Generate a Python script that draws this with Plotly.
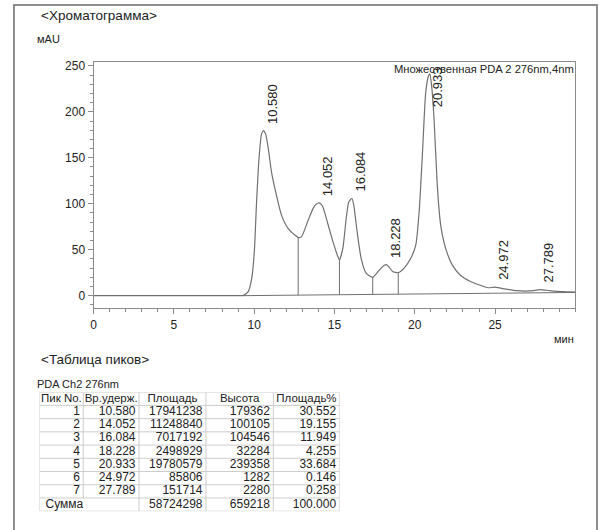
import numpy as np
import plotly.graph_objects as go

# ---- Chromatogram trace (time in min, signal in mAU) ----
trace_time = [0.0, 8.8, 9.33, 9.64, 9.85, 10.01, 10.15, 10.30, 10.46, 10.580, 10.71, 10.88,
              11.08, 11.39, 11.70, 12.12, 12.53, 12.74, 12.94, 13.36, 13.67, 13.85, 14.052,
              14.25, 14.59, 14.90, 15.21, 15.31, 15.52, 15.73, 15.89, 16.084, 16.20, 16.41,
              16.66, 16.97, 17.38, 17.80, 18.10, 18.228, 18.35, 18.62, 18.97, 19.34, 19.75,
              20.06, 20.27, 20.48, 20.68, 20.85, 20.933, 21.05, 21.20, 21.40, 21.61, 21.92,
              22.33, 22.85, 23.47, 24.29, 24.60, 24.972, 25.40, 26.36, 27.20, 27.789, 28.40,
              29.20, 30.0]
trace_mau = [0.0, 0.0, 0.3, 4.7, 19.0, 48.0, 102.0, 149.0, 176.0, 179.6, 176.0, 160.0,
             134.5, 109.0, 87.6, 73.0, 66.0, 63.4, 64.0, 82.0, 95.0, 99.3, 100.9,
             97.5, 78.0, 59.0, 42.5, 39.0, 51.5, 84.0, 102.0, 105.7, 98.5, 69.6,
             40.7, 24.5, 20.0, 28.0, 33.0, 33.8, 32.0, 26.3, 25.0, 30.0, 40.7,
             55.0, 91.0, 156.0, 221.0, 239.0, 241.3, 228.0, 192.0, 120.0, 77.0, 51.5,
             33.5, 22.0, 15.5, 10.0, 8.6, 9.2, 8.0, 5.4, 5.2, 6.6, 5.5,
             4.3, 3.8]

# Integration baseline and peak-separation drop lines
baseline_time = [9.3, 30.0]
baseline_mau = [0.0, 3.5]
valley_times = [12.74, 15.31, 17.38, 18.97]

# ---- Peak table ----
peak_no = [1, 2, 3, 4, 5, 6, 7]
ret_time = [10.580, 14.052, 16.084, 18.228, 20.933, 24.972, 27.789]
peak_area = [17941238, 11248840, 7017192, 2498929, 19780579, 85806, 151714]
peak_height = [179362, 100105, 104546, 32284, 239358, 1282, 2280]
area_pct = [30.552, 19.155, 11.949, 4.255, 33.684, 0.146, 0.258]
total_label = "Сумма"
total_area = 58724298
total_height = 659218
total_pct = 100.000

table_header = ["Пик No.", "Вр.удерж.", "Площадь", "Высота", "Площадь%"]

FONT = "Liberation Sans, Arial, sans-serif"
INK = "#222222"
TRACE = "#707070"
GRID = "#cccccc"
W, H = 599, 530


def px_x(p):
    return p / W


def px_y(p):
    return 1 - p / H


fig = go.Figure()

# chromatogram
fig.add_trace(go.Scatter(x=trace_time, y=trace_mau, mode="lines",
                         line=dict(color=TRACE, width=1.2, shape="spline", smoothing=0.6),
                         hoverinfo="skip", showlegend=False))
# baseline
fig.add_trace(go.Scatter(x=baseline_time, y=baseline_mau, mode="lines",
                         line=dict(color=TRACE, width=1),
                         hoverinfo="skip", showlegend=False))
# drop lines at the valleys
lookup = dict(zip(trace_time, trace_mau))
drop_x, drop_y = [], []
for t in valley_times:
    b = float(np.interp(t, baseline_time, baseline_mau))
    drop_x += [t, t, None]
    drop_y += [b, lookup[t], None]
fig.add_trace(go.Scatter(x=drop_x, y=drop_y, mode="lines",
                         line=dict(color=TRACE, width=1),
                         hoverinfo="skip", showlegend=False))

# retention-time labels above the peaks
annotations = []
for t in ret_time:
    apex = lookup[t]
    if t == 20.933:
        annotations.append(dict(x=t, y=226.5, xref="x", yref="y", text=f"{t:.3f}",
                                textangle=-90, showarrow=False, xshift=8,
                                yanchor="middle", xanchor="center",
                                font=dict(family=FONT, size=13, color=INK)))
    else:
        annotations.append(dict(x=t, y=apex, xref="x", yref="y", text=f"{t:.3f}",
                                textangle=-90, showarrow=False, xshift=9, yshift=5,
                                yanchor="bottom", xanchor="center",
                                font=dict(family=FONT, size=13, color=INK)))

# channel caption inside the plot frame
annotations.append(dict(x=px_x(576), y=px_y(66), xref="paper", yref="paper",
                        text="Множественная PDA 2 276nm,4nm", showarrow=False,
                        xanchor="right", yanchor="middle",
                        font=dict(family=FONT, size=11.2, color=INK)))
# section titles and units
annotations += [
    dict(x=px_x(36), y=px_y(13), xref="paper", yref="paper", text="&lt;Хроматограмма&gt;",
         showarrow=False, xanchor="left", yanchor="middle",
         font=dict(family=FONT, size=13.5, color=INK)),
    dict(x=px_x(32), y=px_y(36), xref="paper", yref="paper", text="мAU",
         showarrow=False, xanchor="left", yanchor="middle",
         font=dict(family=FONT, size=11, color=INK)),
    dict(x=px_x(576), y=px_y(338), xref="paper", yref="paper", text="мин",
         showarrow=False, xanchor="right", yanchor="middle",
         font=dict(family=FONT, size=11, color=INK)),
    dict(x=px_x(36), y=px_y(359), xref="paper", yref="paper", text="&lt;Таблица пиков&gt;",
         showarrow=False, xanchor="left", yanchor="middle",
         font=dict(family=FONT, size=13.5, color=INK)),
    dict(x=px_x(32), y=px_y(383), xref="paper", yref="paper", text="PDA Ch2 276nm",
         showarrow=False, xanchor="left", yanchor="middle",
         font=dict(family=FONT, size=11, color=INK)),
]

# ---- peak table drawn on its own axes (x2: pixels across, y2: row index) ----
col_edges = [0, 44, 100, 167.3, 235, 301.6]
n_rows = len(peak_no) + 2          # header + peaks + total
row_h = 13.3
tbl_left, tbl_top = 36.7, 391.4
pad = 3.5

columns = [
    [str(n) for n in peak_no],
    [f"{t:.3f}" for t in ret_time],
    [str(a) for a in peak_area],
    [str(h) for h in peak_height],
    [f"{p:.3f}" for p in area_pct],
]
totals = ["", "", str(total_area), str(total_height), f"{total_pct:.3f}"]

# grid lines
gx, gy = [], []
for r in range(n_rows + 1):
    gx += [col_edges[0], col_edges[-1], None]
    gy += [r, r, None]
for i, e in enumerate(col_edges):
    bottom = n_rows - 1 if i == 1 else n_rows   # total row spans the first two columns
    gx += [e, e, None]
    gy += [0, bottom, None]
fig.add_trace(go.Scatter(x=gx, y=gy, xaxis="x2", yaxis="y2", mode="lines",
                         line=dict(color=GRID, width=1), hoverinfo="skip", showlegend=False))

# header row
fig.add_trace(go.Scatter(
    x=[(col_edges[i] + col_edges[i + 1]) / 2 for i in range(5)], y=[0.5] * 5,
    text=table_header, mode="text", textposition="middle center",
    xaxis="x2", yaxis="y2", hoverinfo="skip", showlegend=False,
    textfont=dict(family=FONT, size=11.5, color=INK)))

# body rows (right-aligned numbers)
bx, by, bt = [], [], []
for i, col in enumerate(columns):
    for r, v in enumerate(col):
        bx.append(col_edges[i + 1] - pad)
        by.append(r + 1.5)
        bt.append(v)
for i, v in enumerate(totals):
    if v:
        bx.append(col_edges[i + 1] - pad)
        by.append(n_rows - 0.5)
        bt.append(v)
fig.add_trace(go.Scatter(x=bx, y=by, text=bt, mode="text", textposition="middle left",
                         xaxis="x2", yaxis="y2", hoverinfo="skip", showlegend=False,
                         textfont=dict(family=FONT, size=12, color=INK)))
# total label
fig.add_trace(go.Scatter(x=[col_edges[0] + 6], y=[n_rows - 0.5], text=[total_label],
                         mode="text", textposition="middle right",
                         xaxis="x2", yaxis="y2", hoverinfo="skip", showlegend=False,
                         textfont=dict(family=FONT, size=12, color=INK)))

axis_line = "#8a8a8a"
fig.update_layout(
    width=W, height=H,
    margin=dict(l=0, r=0, t=0, b=0),
    paper_bgcolor="white", plot_bgcolor="white",
    showlegend=False,
    annotations=annotations,
    xaxis=dict(domain=[px_x(91), px_x(575.3)], range=[0, 30],
               tickvals=[0, 5, 10, 15, 20, 25], ticks="outside", ticklen=5,
               tickcolor=axis_line, showline=True, linecolor=axis_line, linewidth=1,
               mirror=True, showgrid=False, zeroline=False,
               minor=dict(dtick=1, ticks="outside", ticklen=3, tickcolor=axis_line),
               tickfont=dict(family=FONT, size=12, color=INK)),
    yaxis=dict(domain=[px_y(307), px_y(59)], range=[-13.7, 254.6],
               tickvals=[0, 50, 100, 150, 200, 250], ticks="outside", ticklen=5,
               tickcolor=axis_line, showline=True, linecolor=axis_line, linewidth=1,
               mirror=True, showgrid=False, zeroline=False,
               minor=dict(dtick=10, ticks="outside", ticklen=3, tickcolor=axis_line),
               tickfont=dict(family=FONT, size=12, color=INK)),
    xaxis2=dict(domain=[px_x(tbl_left), px_x(tbl_left + col_edges[-1])],
                range=[col_edges[0], col_edges[-1]], anchor="y2",
                visible=False, fixedrange=True),
    yaxis2=dict(domain=[px_y(tbl_top + n_rows * row_h), px_y(tbl_top)],
                range=[n_rows, 0], anchor="x2", visible=False, fixedrange=True),
    shapes=[dict(type="rect", xref="paper", yref="paper",
                 x0=px_x(11), x1=px_x(597), y0=-0.05, y1=px_y(2),
                 line=dict(color="#6a6a6a", width=1.5), layer="above")],
)

fig.write_html("out.html")
